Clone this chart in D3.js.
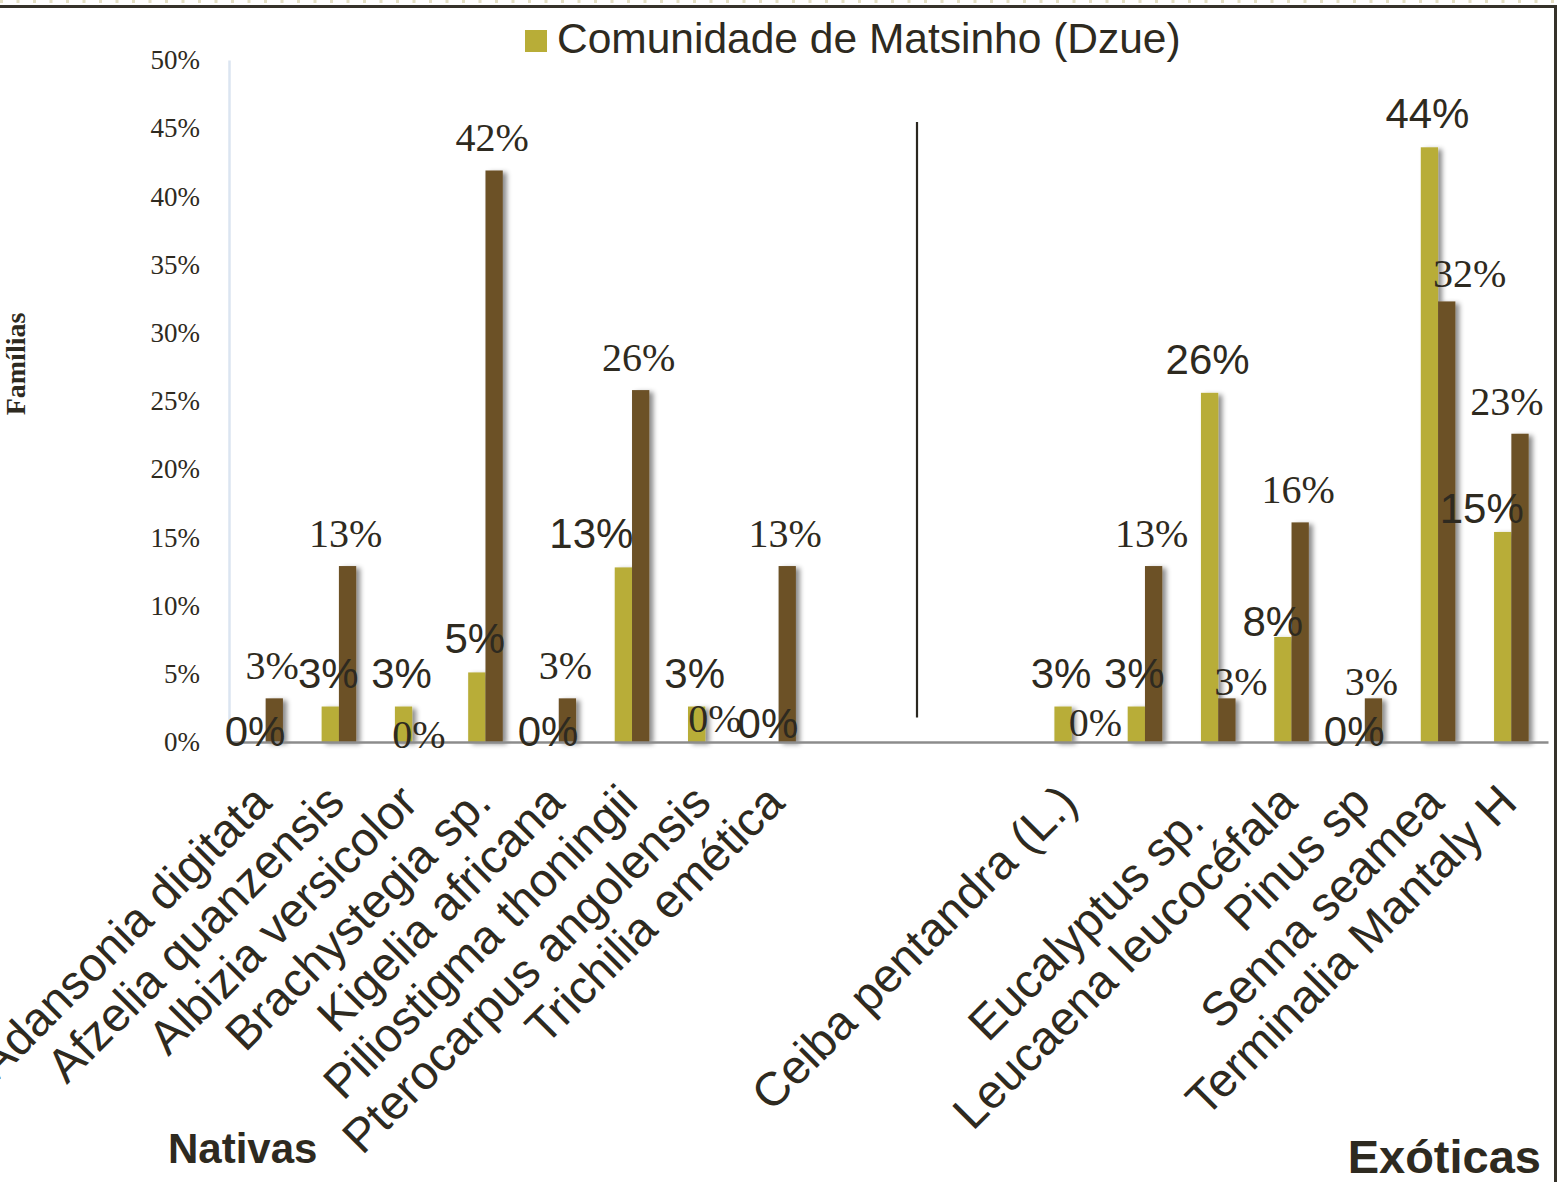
<!DOCTYPE html>
<html lang="pt">
<head>
<meta charset="utf-8">
<title>Comunidade de Matsinho (Dzue) — Famílias</title>
<script src="https://cdn.jsdelivr.net/npm/d3@7"></script>
<style>
  html, body { margin: 0; padding: 0; background: #ffffff; }
  svg { display: block; }
</style>
</head>
<body>
<svg id="chart" width="1557" height="1182"></svg>
<script>
// ---- data -------------------------------------------------------------
// Species slots along the x axis (empty strings are unlabelled slots).
const categories = [
  "Adansonia digitata", "Afzelia quanzensis", "Albizia versicolor",
  "Brachystegia sp.", "Kigelia africana", "Piliostigma thoningii",
  "Pterocarpus angolensis", "Trichilia emética",
  "", "", "",
  "Ceiba pentandra (L.)", "", "Eucalyptus sp.", "Leucaena leucocéfala",
  "Pinus sp", "Senna seamea", "Terminalia Mantaly H"
];
// Share of families per species (null = no bar in that slot).
const matsinho = [0, 0.026, 0.026, 0.051, 0, 0.128, 0.026, 0,
  null, null, null,
  0.026, 0.026, 0.256, 0.077, 0, 0.436, 0.154];
const segundaSerie = [0.032, 0.129, 0, 0.419, 0.032, 0.258, 0, 0.129,
  null, null, null,
  0, 0.129, 0.032, 0.161, 0.032, 0.323, 0.226];
const seriesNames = ["Comunidade de Matsinho (Dzue)", ""];
const yTicks = [0, 0.05, 0.10, 0.15, 0.20, 0.25, 0.30, 0.35, 0.40, 0.45, 0.50];
const yTitle = "Famílias";
const groupLabels = ["Nativas", "Exóticas"];

// ---- layout & style ---------------------------------------------------
const W = 1557, H = 1182;
const plot = { left: 229, right: 1548, top: 60, bottom: 742 };
const colors = ["#b8ad37", "#6c5127"];
const ink = "#2e2a20";
const sans = "'Liberation Sans', Arial, Helvetica, sans-serif";
const serif = "'Liberation Serif', 'Times New Roman', Times, serif";
// value-label fonts differ per series
const labelFont = [
  { family: sans, size: 42 },
  { family: serif, size: 40 }
];
// hand-placed value labels (offsets from the default spot, in px)
const labelNudge = {
  "5-0": [-30, 0], "13-1": [16, 16], "14-0": [-8, 18], "15-1": [0, 16],
  "16-1": [25, 5], "17-0": [-19, 10], "17-1": [-11, 0],
  "11-1": [17, -10], "6-1": [3, -14], "7-0": [0, -8], "2-1": [0, 2]
};
// hand-placed category labels (shift along the text baseline, in px)
const categoryNudge = { 13: -28 };

const svg = d3.select("#chart");

const defs = svg.append("defs");
const shadow = defs.append("filter").attr("id", "barShadow")
  .attr("x", "-40%").attr("y", "-5%").attr("width", "200%").attr("height", "115%");
shadow.append("feDropShadow")
  .attr("dx", 4).attr("dy", 2).attr("stdDeviation", 2.6)
  .attr("flood-color", "#000").attr("flood-opacity", 0.45);

// ---- scales -----------------------------------------------------------
const slots = d3.range(categories.length);
const x = d3.scaleBand()
  .domain(slots)
  .range([plot.left, plot.right])
  .paddingInner(0.528)
  .paddingOuter(0.264);
const xSeries = d3.scaleBand()
  .domain([0, 1])
  .range([0, x.bandwidth()]);
const y = d3.scaleLinear()
  .domain([0, 0.5])
  .range([plot.bottom, plot.top]);
const pct = d3.format(".0%");

// ---- frame ------------------------------------------------------------
svg.append("rect").attr("width", W).attr("height", H).attr("fill", "#fff");
// dotted rule along the very top edge
svg.append("line")
  .attr("x1", 0).attr("x2", 1555).attr("y1", 1.5).attr("y2", 1.5)
  .attr("stroke", "#e4dfc4").attr("stroke-width", 3)
  .attr("stroke-dasharray", "3 13.5");
svg.append("line")
  .attr("x1", 0).attr("x2", 1556).attr("y1", 6.5).attr("y2", 6.5)
  .attr("stroke", "#35322a").attr("stroke-width", 3);
svg.append("line")
  .attr("x1", 1555.5).attr("x2", 1555.5).attr("y1", 5).attr("y2", H)
  .attr("stroke", "#35322a").attr("stroke-width", 3);

// ---- y axis -----------------------------------------------------------
const yAxis = d3.axisLeft(y).tickValues(yTicks).tickFormat(pct).tickSize(0).tickPadding(29);
const yg = svg.append("g")
  .attr("transform", `translate(${plot.left},0)`)
  .call(yAxis);
yg.select(".domain").attr("stroke", "#dbe5f1").attr("stroke-width", 2.5);
yg.selectAll(".tick text")
  .attr("font-family", serif).attr("font-size", 27).attr("fill", ink);

svg.append("text")
  .attr("transform", `translate(25,${(plot.top + plot.bottom) / 2 - 37}) rotate(-90)`)
  .attr("text-anchor", "middle")
  .attr("font-family", serif).attr("font-weight", "bold")
  .attr("font-size", 28).attr("fill", ink)
  .text(yTitle);

// ---- bars -------------------------------------------------------------
const series = [matsinho, segundaSerie];
const barData = [];
series.forEach((vals, s) => {
  vals.forEach((v, i) => {
    if (v !== null) barData.push({ i, s, v });
  });
});

svg.append("g").attr("filter", "url(#barShadow)")
  .selectAll("rect")
  .data(barData.filter(d => d.v > 0))
  .join("rect")
  .attr("x", d => x(d.i) + xSeries(d.s))
  .attr("y", d => y(d.v))
  .attr("width", xSeries.bandwidth())
  .attr("height", d => y(0) - y(d.v))
  .attr("fill", d => colors[d.s]);

// category axis line
const xAxis = d3.axisBottom(x).tickSize(0).tickFormat(() => "");
const xg = svg.append("g")
  .attr("transform", `translate(0,${plot.bottom})`)
  .call(xAxis);
xg.select(".domain").attr("stroke", "#8c8c8c").attr("stroke-width", 2.5);

// divider between native and exotic species
const divX = x(8) + x.step() * 1.125;
svg.append("line")
  .attr("x1", divX).attr("x2", divX)
  .attr("y1", y(0.4545)).attr("y2", y(0.018))
  .attr("stroke", "#2a2720").attr("stroke-width", 2.2);

// ---- value labels -----------------------------------------------------
svg.append("g")
  .selectAll("text")
  .data(barData)
  .join("text")
  .attr("x", d => {
    const n = labelNudge[`${d.i}-${d.s}`] || [0, 0];
    return x(d.i) + xSeries(d.s) + xSeries.bandwidth() / 2 - 2 + n[0];
  })
  .attr("y", d => {
    const n = labelNudge[`${d.i}-${d.s}`] || [0, 0];
    const base = d.v === 0 ? y(0) + 4 : y(d.v) - 19;
    return base + n[1];
  })
  .attr("text-anchor", "middle")
  .attr("font-family", d => labelFont[d.s].family)
  .attr("font-size", d => labelFont[d.s].size)
  .attr("fill", ink)
  .text(d => pct(d.v));

// ---- category labels --------------------------------------------------
svg.append("g")
  .selectAll("text")
  .data(slots.filter(i => categories[i] !== ""))
  .join("text")
  .attr("transform", i => `translate(${x(i) + x.bandwidth() / 2 + 8},${plot.bottom + 63}) rotate(-45)`)
  .attr("x", i => categoryNudge[i] || 0)
  .attr("text-anchor", "end")
  .attr("font-family", sans)
  .attr("font-size", 47.5)
  .attr("fill", ink)
  .text(i => categories[i]);

// group captions
svg.append("text")
  .attr("x", 168).attr("y", 1163)
  .attr("font-family", sans).attr("font-weight", "bold")
  .attr("font-size", 42).attr("fill", ink)
  .text(groupLabels[0]);
svg.append("text")
  .attr("x", 1541).attr("y", 1173)
  .attr("text-anchor", "end")
  .attr("font-family", sans).attr("font-weight", "bold")
  .attr("font-size", 47).attr("fill", ink)
  .text(groupLabels[1]);

// ---- legend -----------------------------------------------------------
const legend = svg.append("g").attr("transform", "translate(525,30)");
legend.append("rect").attr("width", 22).attr("height", 22).attr("fill", colors[0]);
legend.append("text")
  .attr("x", 32).attr("y", 23)
  .attr("font-family", sans).attr("font-size", 42.5).attr("fill", ink)
  .text(seriesNames[0]);
</script>
</body>
</html>
